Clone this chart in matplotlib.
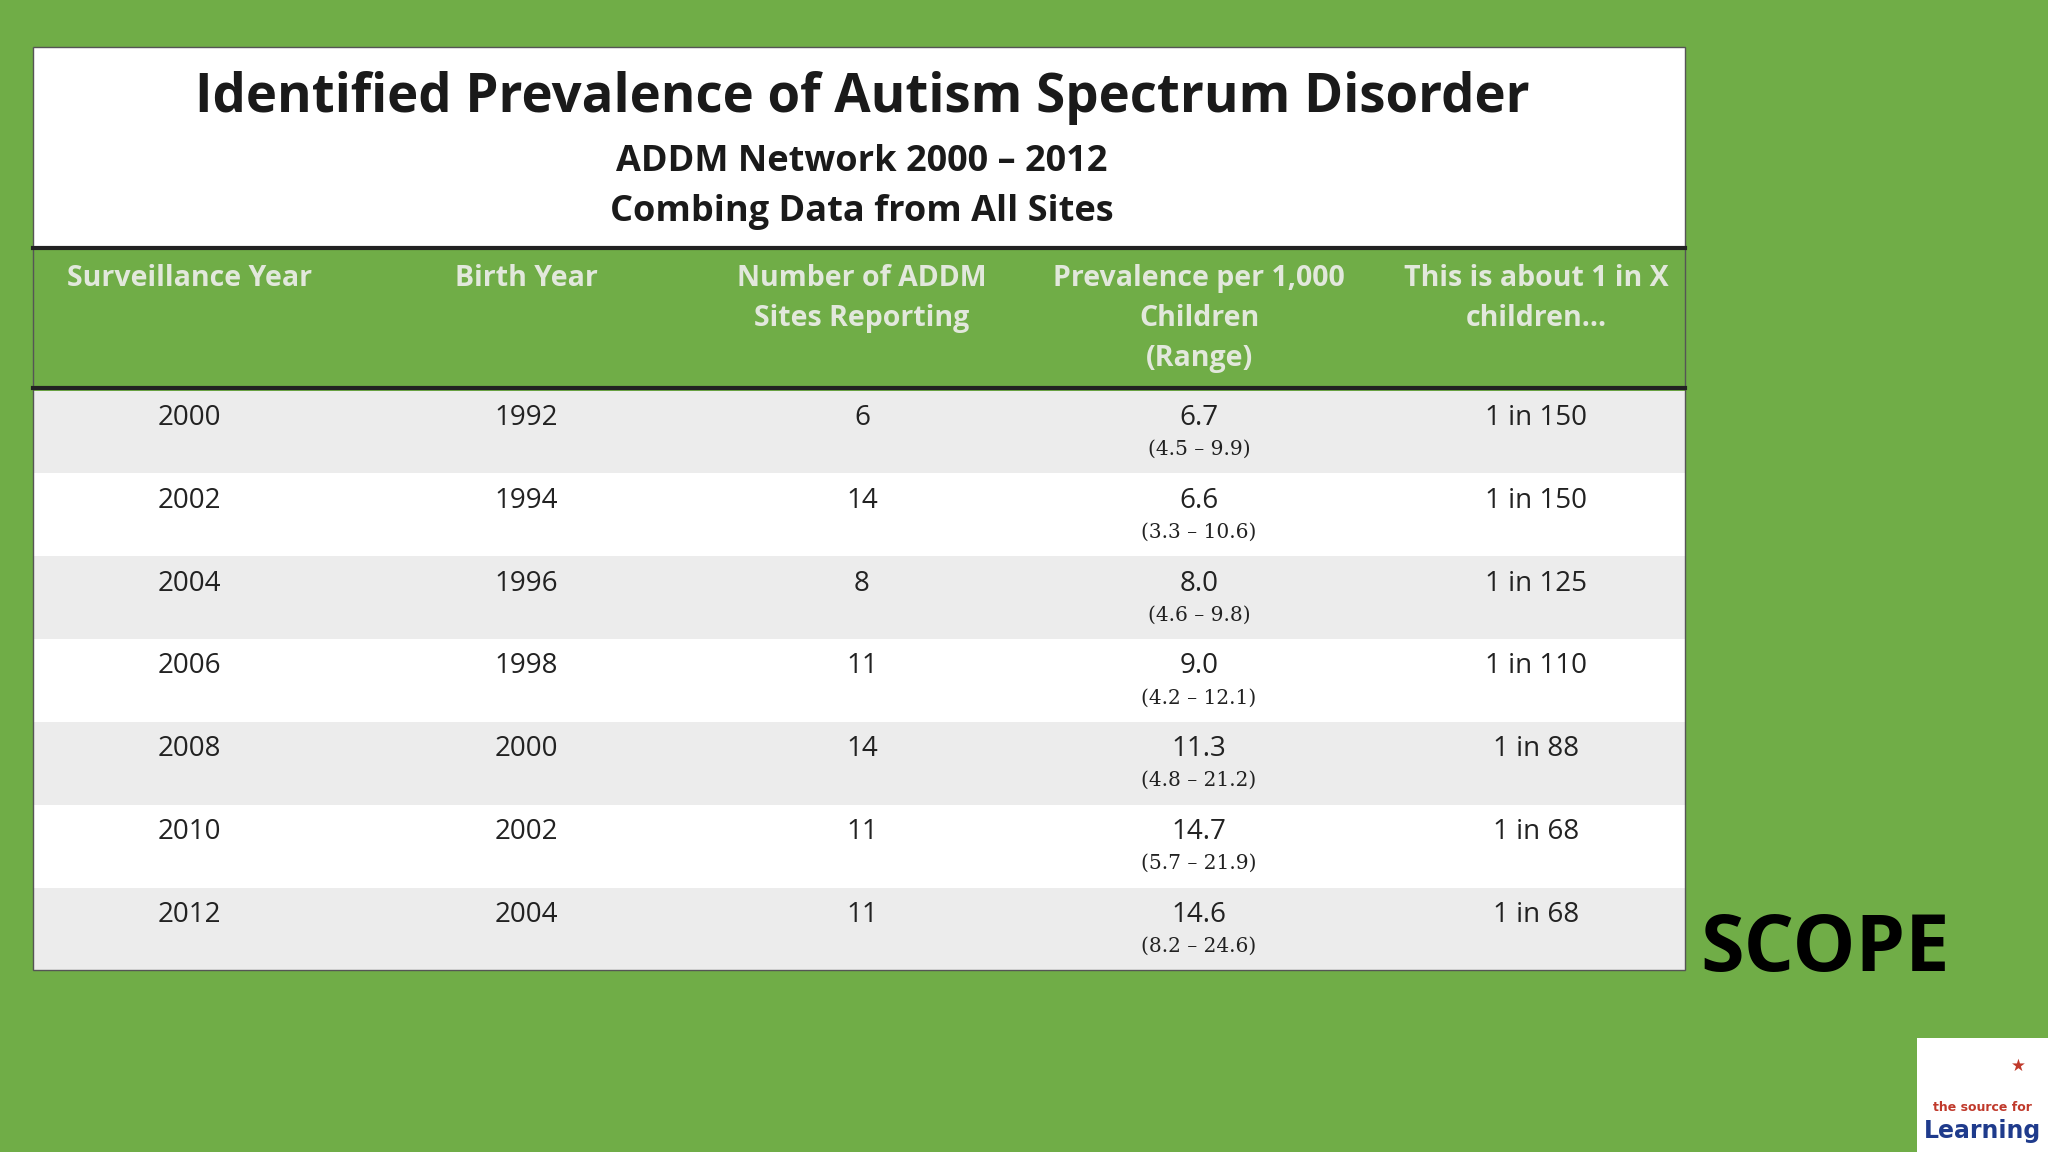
import matplotlib
matplotlib.use("Agg")
import matplotlib.pyplot as plt
from matplotlib.patches import Rectangle

surv_years = ["2000", "2002", "2004", "2006", "2008", "2010", "2012"]
birth_years = ["1992", "1994", "1996", "1998", "2000", "2002", "2004"]
sites = ["6", "14", "8", "11", "14", "11", "11"]
prevalence = ["6.7", "6.6", "8.0", "9.0", "11.3", "14.7", "14.6"]
ranges = ["(4.5 – 9.9)", "(3.3 – 10.6)", "(4.6 – 9.8)", "(4.2 – 12.1)", "(4.8 – 21.2)", "(5.7 – 21.9)", "(8.2 – 24.6)"]
one_in = ["1 in 150", "1 in 150", "1 in 125", "1 in 110", "1 in 88", "1 in 68", "1 in 68"]
headers = ["Surveillance Year", "Birth Year", "Number of ADDM\nSites Reporting",
           "Prevalence per 1,000\nChildren\n(Range)", "This is about 1 in X\nchildren..."]

GREEN = "#70ad47"
fig = plt.figure(figsize=(20.48, 11.52), dpi=100)
fig.patch.set_facecolor(GREEN)
ax = fig.add_axes([0, 0, 1, 1])
ax.set_xlim(0, 1568); ax.set_ylim(882, 0); ax.axis("off")

L, R = 25, 1290
ax.add_patch(Rectangle((L, 36), R - L, 154, fc="white", ec="none"))
ax.text(660, 75, "Identified Prevalence of Autism Spectrum Disorder", ha="center", va="center",
        fontsize=38, fontweight="bold", color="#1a1a1a", family="Open Sans")
ax.text(660, 124, "ADDM Network 2000 – 2012", ha="center", va="center", fontsize=26,
        fontweight="bold", color="#1a1a1a", family="Open Sans")
ax.text(660, 162, "Combing Data from All Sites", ha="center", va="center", fontsize=26,
        fontweight="bold", color="#1a1a1a", family="Open Sans")

ax.add_patch(Rectangle((L, 190), R - L, 107, fc=GREEN, ec="none"))
ax.plot([L, R], [190, 190], color="#222222", lw=3)
ax.plot([L, R], [297, 297], color="#222222", lw=3)
cols = [145, 403, 660, 918, 1176]
for x, h in zip(cols, headers):
    ax.text(x, 202, h, ha="center", va="top", fontsize=20.5, fontweight="bold",
            color="#e2e8dc", family="Open Sans", linespacing=1.5)

top, rh = 299, (743 - 299) / 7
for i in range(len(surv_years)):
    y0 = top + i * rh
    ax.add_patch(Rectangle((L, y0), R - L, rh, fc="#ececec" if i % 2 == 0 else "white", ec="none"))
    yt = y0 + 21
    for x, v in zip(cols, [surv_years[i], birth_years[i], sites[i], prevalence[i], one_in[i]]):
        ax.text(x, yt, v, ha="center", va="center", fontsize=20, color="#222222", family="Open Sans")
    ax.text(918, y0 + 45, ranges[i], ha="center", va="center", fontsize=14.5,
            color="#222222", family="DejaVu Serif")
ax.add_patch(Rectangle((L, 36), R - L, 707, fc="none", ec="#555555", lw=1))

ax.text(1302, 728, "SCOPE", ha="left", va="center", fontsize=57, fontweight="bold",
        color="black", family="Open Sans")

ax.add_patch(Rectangle((1468, 795), 100, 87, fc="white", ec="none"))
ax.text(1518, 848, "the source for", ha="center", va="center", fontsize=9, fontweight="bold",
        color="#c0392b")
ax.text(1518, 866, "Learning", ha="center", va="center", fontsize=17, fontweight="bold",
        color="#1f3b8c")
ax.text(1545, 816, "★", ha="center", va="center", fontsize=12, color="#c0392b")

fig.savefig("out.png", dpi=100, facecolor=GREEN)
